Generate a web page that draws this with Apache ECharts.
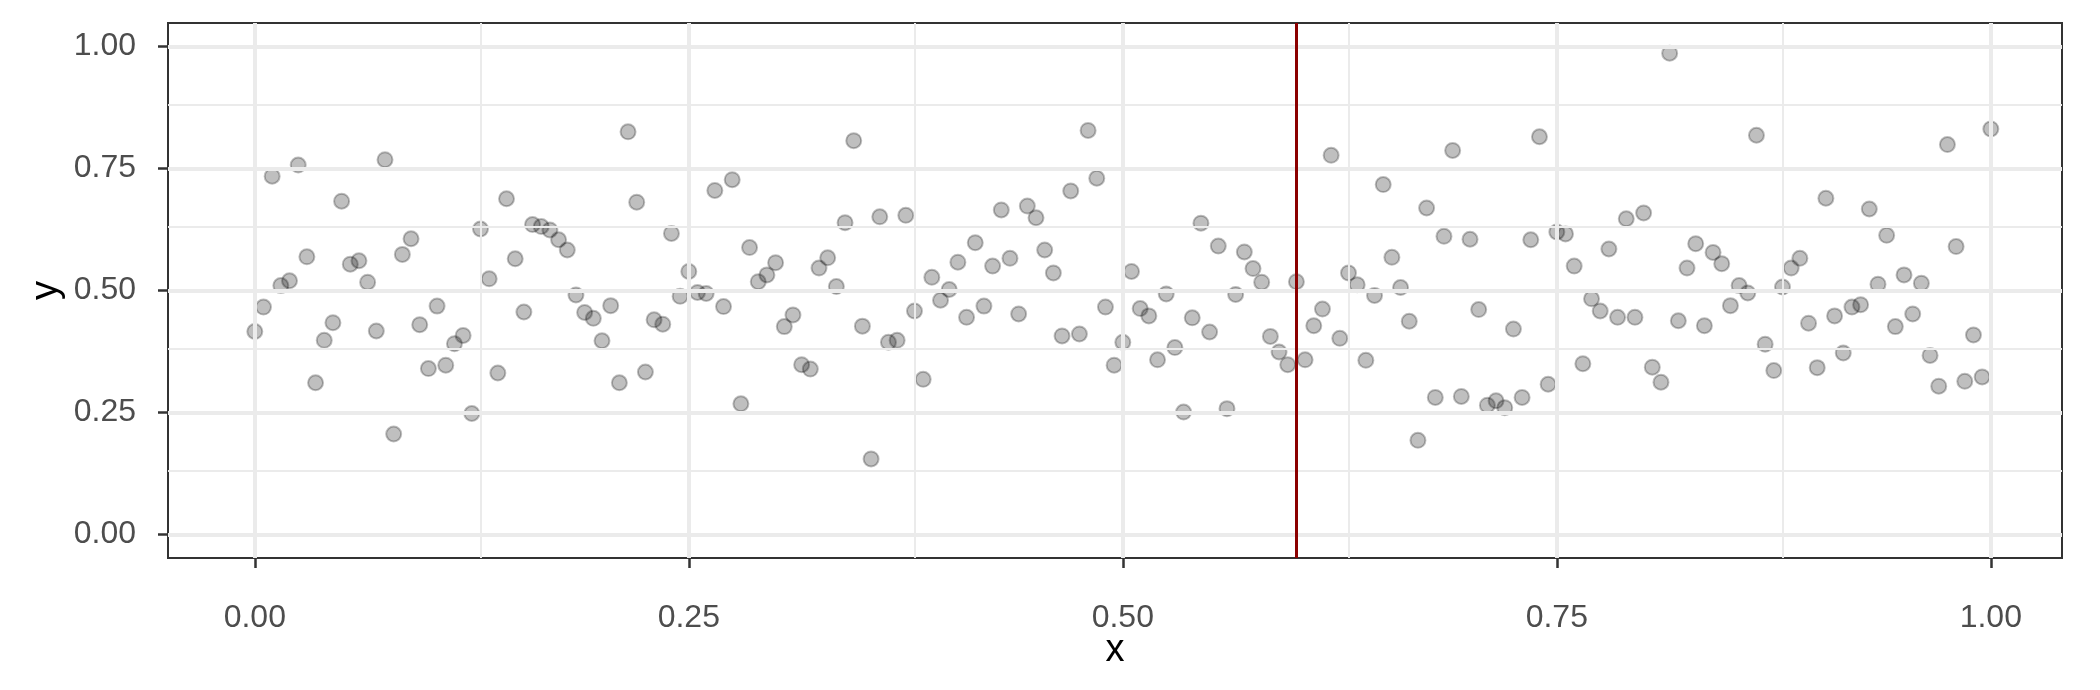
<!DOCTYPE html>
<html>
<head>
<meta charset="utf-8">
<script src="https://cdn.jsdelivr.net/npm/echarts@6/dist/echarts.min.js"></script>
<style>
  html, body { margin: 0; padding: 0; background: #fff; }
  #chart { width: 2100px; height: 690px; }
</style>
</head>
<body>
<div id="chart"></div>
<script>
// x runs on a regular grid from 0 to 1 in steps of 0.005
const xStep = 0.005
// y, one per x step
const yValues = [
  0.416, 0.466, 0.734, 0.510, 0.520, 0.757, 0.569, 0.311, 0.398, 0.434, 0.683, 0.554, 0.561, 0.517, 0.417, 0.768, 0.206, 0.574, 0.606, 0.430,
  0.340, 0.468, 0.347, 0.391, 0.408, 0.248, 0.626, 0.524, 0.331, 0.688, 0.565, 0.456, 0.635, 0.631, 0.624, 0.604, 0.583, 0.491, 0.455, 0.443,
  0.397, 0.469, 0.311, 0.825, 0.681, 0.333, 0.440, 0.431, 0.617, 0.488, 0.539, 0.496, 0.494, 0.705, 0.467, 0.727, 0.268, 0.588, 0.518, 0.532,
  0.557, 0.426, 0.450, 0.348, 0.339, 0.546, 0.567, 0.508, 0.639, 0.807, 0.427, 0.155, 0.651, 0.394, 0.398, 0.654, 0.458, 0.318, 0.527, 0.480,
  0.502, 0.558, 0.445, 0.598, 0.468, 0.550, 0.665, 0.566, 0.452, 0.673, 0.649, 0.583, 0.536, 0.407, 0.704, 0.411, 0.828, 0.730, 0.466, 0.347,
  0.394, 0.539, 0.463, 0.448, 0.358, 0.493, 0.383, 0.251, 0.444, 0.638, 0.415, 0.591, 0.258, 0.492, 0.579, 0.545, 0.517, 0.406, 0.374, 0.348,
  0.518, 0.358, 0.428, 0.462, 0.777, 0.402, 0.536, 0.512, 0.357, 0.490, 0.717, 0.568, 0.506, 0.437, 0.193, 0.669, 0.281, 0.611, 0.787, 0.283,
  0.605, 0.461, 0.265, 0.274, 0.260, 0.421, 0.281, 0.604, 0.815, 0.308, 0.620, 0.616, 0.550, 0.350, 0.483, 0.458, 0.585, 0.445, 0.647, 0.445,
  0.659, 0.343, 0.312, 0.986, 0.438, 0.546, 0.596, 0.428, 0.578, 0.555, 0.469, 0.510, 0.495, 0.818, 0.390, 0.336, 0.507, 0.546, 0.566, 0.433,
  0.342, 0.689, 0.448, 0.372, 0.466, 0.471, 0.667, 0.513, 0.613, 0.426, 0.532, 0.452, 0.515, 0.367, 0.304, 0.799, 0.590, 0.314, 0.409, 0.323,
  0.831,
]
const majorTicks = [0, 0.25, 0.5, 0.75, 1]
const minorTicks = [0.125, 0.375, 0.625, 0.875]
const cutoffX = 0.6

const points = yValues.map((y, i) => [+(i * xStep).toFixed(3), y])

const font = '"Liberation Sans", Arial, Helvetica, sans-serif'

// shared axis look (ggplot theme_bw-ish)
const axisBase = {
  type: 'value',
  axisLine: { show: true, onZero: false, lineStyle: { color: '#333333', width: 2 } },
  splitLine: { show: false },
  axisTick: {
    show: true,
    customValues: majorTicks,
    length: 10,
    lineStyle: { color: '#333333', width: 2.5 },
  },
  axisLabel: {
    customValues: majorTicks,
    color: '#4D4D4D',
    fontSize: 32,
    fontFamily: font,
    formatter: (v) => v.toFixed(2),
  },
  nameLocation: 'middle',
  nameMoveOverlap: false,
  nameTextStyle: { color: '#000', fontSize: 38, fontFamily: font },
}

const gridLines = (axis, values, width) =>
  values.map((v) => ({ [axis]: v, lineStyle: { color: '#EBEBEB', width: width, type: 'solid' } }))

const chart = echarts.init(document.getElementById('chart'), null, { renderer: 'canvas' })

chart.setOption({
  animation: false,
  backgroundColor: '#ffffff',
  grid: {
    left: 168,
    top: 23,
    width: 1894,
    height: 535,
    show: true,
    backgroundColor: '#ffffff',
    borderColor: '#333333',
    borderWidth: 2,
    z: 0,
  },
  xAxis: {
    ...axisBase,
    min: -0.05,
    max: 1.041,
    name: 'x',
    nameGap: 74,
    axisLabel: { ...axisBase.axisLabel, margin: 44 },
  },
  yAxis: {
    ...axisBase,
    min: -0.048,
    max: 1.048,
    name: 'y',
    nameGap: 102,
    axisLabel: { ...axisBase.axisLabel, margin: 32 },
  },
  series: [
    {
      // panel grid lines
      type: 'line',
      data: [],
      z: 1,
      silent: true,
      markLine: {
        silent: true,
        symbol: ['none', 'none'],
        label: { show: false },
        animation: false,
        data: [
          ...gridLines('xAxis', minorTicks, 2),
          ...gridLines('yAxis', minorTicks, 2),
          ...gridLines('xAxis', majorTicks, 4),
          ...gridLines('yAxis', majorTicks, 4),
        ],
      },
    },
    {
      type: 'scatter',
      data: points,
      z: 3,
      symbol: 'circle',
      symbolSize: 15,
      itemStyle: {
        color: 'rgba(0, 0, 0, 0.25)',
        borderColor: 'rgba(0, 0, 0, 0.25)',
        borderWidth: 2,
        opacity: 1,
      },
    },
    {
      // vertical cutoff line
      type: 'line',
      data: [],
      z: 4,
      markLine: {
        silent: true,
        symbol: ['none', 'none'],
        label: { show: false },
        animation: false,
        lineStyle: { color: '#8B0000', width: 3, type: 'solid' },
        data: [{ xAxis: cutoffX }],
      },
    },
  ],
})
</script>
</body>
</html>
